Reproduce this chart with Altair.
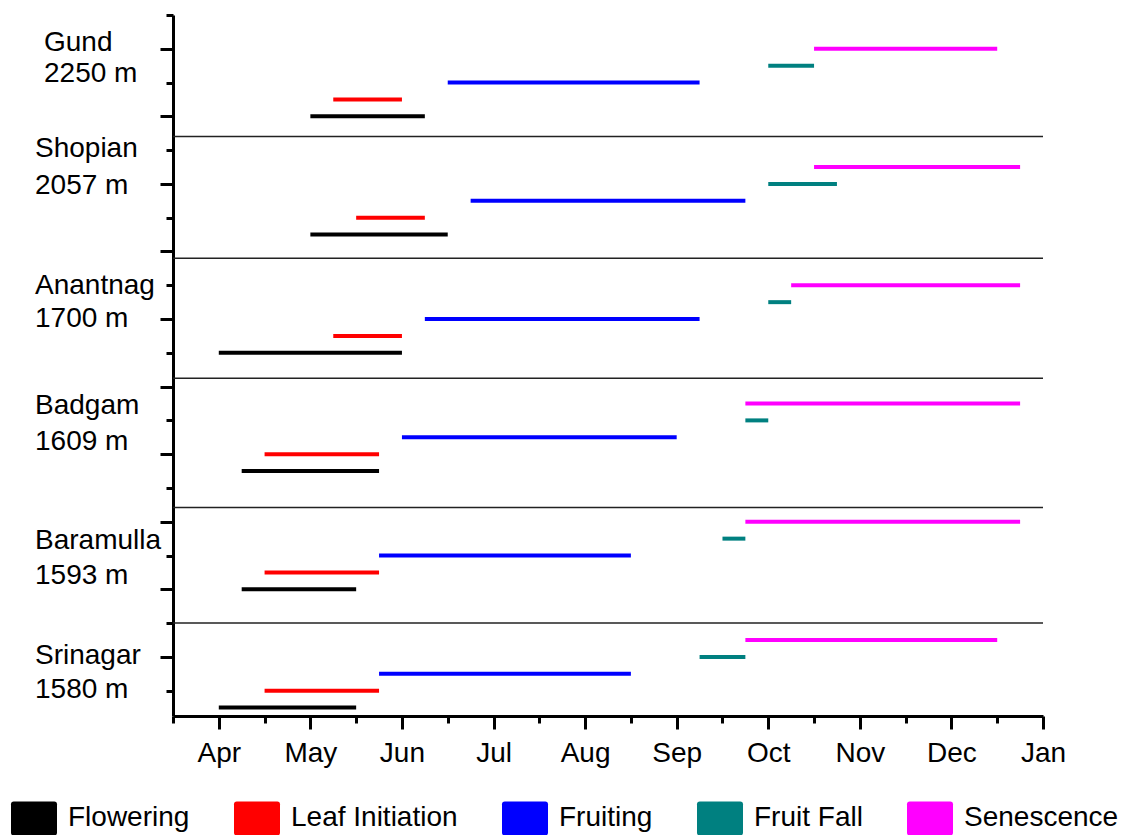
import altair as alt
import pandas as pd

FONT = "Liberation Sans"

months = ["Apr", "May", "Jun", "Jul", "Aug", "Sep", "Oct", "Nov", "Dec", "Jan"]
sites = ["Gund", "Shopian", "Anantnag", "Badgam", "Baramulla", "Srinagar"]
elevations = ["2250 m", "2057 m", "1700 m", "1609 m", "1593 m", "1580 m"]
phases = ["Flowering", "Leaf Initiation", "Fruiting", "Fruit Fall", "Senescence"]
phase_colors = ["#000000", "#FF0000", "#0000FF", "#008080", "#FF00FF"]

# y row of each site's Flowering bar; the other phases sit one row above each other
site_base_row = [36, 29, 22, 15, 8, 1]

# start / end of each phase, in months counted from 1 April
flowering_start = [1.0, 1.0, 0.0, 0.25, 0.25, 0.0]
flowering_end = [2.25, 2.5, 2.0, 1.75, 1.5, 1.5]
leaf_start = [1.25, 1.5, 1.25, 0.5, 0.5, 0.5]
leaf_end = [2.0, 2.25, 2.0, 1.75, 1.75, 1.75]
fruiting_start = [2.5, 2.75, 2.25, 2.0, 1.75, 1.75]
fruiting_end = [5.25, 5.75, 5.25, 5.0, 4.5, 4.5]
fruitfall_start = [6.0, 6.0, 6.0, 5.75, 5.5, 5.25]
fruitfall_end = [6.5, 6.75, 6.25, 6.0, 5.75, 5.75]
senescence_start = [6.5, 6.5, 6.25, 5.75, 5.75, 5.75]
senescence_end = [8.5, 8.75, 8.75, 8.75, 8.75, 8.5]

separator_rows = [34.8, 27.6, 20.5, 12.85, 6.0]
site_name_row = [40.45, 34.2, 26.1, 19.0, 10.95, 4.2]
site_elev_row = [38.6, 32.0, 24.15, 16.85, 8.9, 2.15]

major_x = list(range(0, 10))
minor_x = [i + 0.5 for i in range(-1, 9)]
major_y = list(range(4, 41, 4))
minor_y = list(range(2, 43, 4))

starts = [flowering_start, leaf_start, fruiting_start, fruitfall_start, senescence_start]
ends = [flowering_end, leaf_end, fruiting_end, fruitfall_end, senescence_end]
rows = []
for si, site in enumerate(sites):
    for pi, phase in enumerate(phases):
        rows.append({
            "site": site,
            "phase": phase,
            "start": starts[pi][si],
            "end": ends[pi][si],
            "row": site_base_row[si] + pi,
        })
seg_df = pd.DataFrame(rows)

lab_rows = []
for si, site in enumerate(sites):
    lab_rows.append({"site": site, "text": site, "row": site_name_row[si]})
    lab_rows.append({"site": site, "text": elevations[si], "row": site_elev_row[si]})
lab_df = pd.DataFrame(lab_rows)
sep_df = pd.DataFrame({"row": separator_rows})

x_scale = alt.Scale(domain=[-0.5, 9], nice=False, zero=False, padding=0)
y_scale = alt.Scale(domain=[0.5, 42], nice=False, zero=False, padding=0)
month_expr = "[" + ",".join(f"'{m}'" for m in months) + "][datum.value]"

legend_symbol = ("M-0.88,-0.74H0.88Q1,-0.74 1,-0.62V0.62Q1,0.74 0.88,0.74"
                 "H-0.88Q-1,0.74 -1,0.62V-0.62Q-1,-0.74 -0.88,-0.74Z")

bars = alt.Chart(seg_df).mark_bar(size=4).encode(
    x=alt.X("start:Q", scale=x_scale,
            axis=alt.Axis(values=major_x, labelExpr=month_expr, tickSize=13,
                          labelPadding=10, labelFlush=False, title=None, grid=False,
                          orient="bottom")),
    x2="end:Q",
    y=alt.Y("row:Q", scale=y_scale,
            axis=alt.Axis(values=major_y, labels=False, tickSize=13, title=None,
                          grid=False, orient="left")),
    color=alt.Color("phase:N", scale=alt.Scale(domain=phases, range=phase_colors),
                    legend=alt.Legend(title=None, orient="none", legendX=-162, legendY=780,
                                      direction="horizontal", columns=5,
                                      symbolType=legend_symbol, symbolSize=2116,
                                      symbolStrokeWidth=0, symbolOpacity=1,
                                      labelFont=FONT, labelFontSize=28, labelColor="black",
                                      labelLimit=400, labelOffset=11, columnPadding=44)),
)

minor = alt.Chart(seg_df).mark_point(opacity=0).encode(
    x=alt.X("start:Q", scale=x_scale,
            axis=alt.Axis(values=minor_x, labels=False, tickSize=7, domain=False,
                          title=None, grid=False, orient="bottom")),
    y=alt.Y("row:Q", scale=y_scale,
            axis=alt.Axis(values=minor_y, labels=False, tickSize=7, domain=False,
                          title=None, grid=False, orient="left")),
)

separators = alt.Chart(sep_df).mark_rule(color="#222222", strokeWidth=1.5).encode(
    y=alt.Y("row:Q", scale=y_scale, axis=None),
)

text_common = dict(align="left", baseline="middle", fontSize=28, font=FONT, color="black", dy=2)
labels_gund = alt.Chart(lab_df).transform_filter(alt.datum.site == "Gund").mark_text(**text_common).encode(
    x=alt.value(-129),
    y=alt.Y("row:Q", scale=y_scale, axis=None),
    text="text:N",
)
labels_rest = alt.Chart(lab_df).transform_filter(alt.datum.site != "Gund").mark_text(**text_common).encode(
    x=alt.value(-138),
    y=alt.Y("row:Q", scale=y_scale, axis=None),
    text="text:N",
)

chart = alt.layer(bars, minor, separators, labels_gund, labels_rest).resolve_axis(
    x="independent", y="independent"
).properties(
    width=870,
    height=701,
    autosize=alt.AutoSizeParams(type="none"),
    padding={"left": 173, "top": 15, "right": 92, "bottom": 119},
).configure_view(stroke=None).configure_axis(
    domainColor="black", domainWidth=3, tickColor="black", tickWidth=3,
    labelColor="black", labelFont=FONT, labelFontSize=28,
)

chart.save("out.html", embed_options={"renderer": "svg", "actions": False})
